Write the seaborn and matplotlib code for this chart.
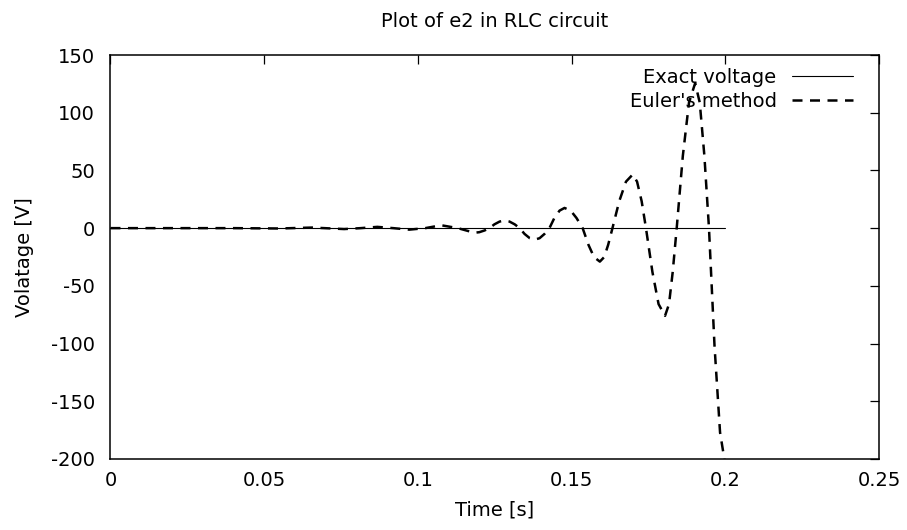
import matplotlib
matplotlib.use("Agg")
import matplotlib.pyplot as plt
import pandas as pd
import seaborn as sns

# exact solution (flat at ~0 V on this scale)
exact_t = [0.0, 0.05, 0.1, 0.15, 0.2]
exact_v = [0.0, 0.0, 0.0, 0.0, 0.0]

# Euler's method
euler_t = [0.0, 0.02, 0.04, 0.055, 0.0656, 0.076, 0.0814, 0.0868, 0.092, 0.0972,
           0.1024, 0.1076, 0.113, 0.1184, 0.12, 0.1217, 0.1233, 0.1249, 0.1266,
           0.1282, 0.1298, 0.1315, 0.1331, 0.1347, 0.1364, 0.138, 0.1396, 0.1412,
           0.1428, 0.1444, 0.1461, 0.1477, 0.1497, 0.1516, 0.1536, 0.1555, 0.1573,
           0.1592, 0.1606, 0.1619, 0.1633, 0.1655, 0.1677, 0.1699, 0.1713, 0.1728,
           0.1742, 0.1763, 0.1783, 0.1804, 0.1817, 0.1829, 0.1842, 0.1862, 0.1882,
           0.1902, 0.1917, 0.1932, 0.1947, 0.1965, 0.1983, 0.2]
euler_v = [0.0, 0.0, 0.0, -0.3, 0.5, -0.8, 0.0, 1.1, 0.0, -1.3,
           0.0, 2.5, 0.0, -4.0, -3.5, -2.0, 0.0, 3.3, 5.7,
           6.6, 5.7, 3.3, 0.0, -5.0, -8.7, -10.0, -8.7, -5.0,
           0.0, 8.8, 15.2, 17.5, 15.2, 8.8, 0.0, -14.5, -25.1,
           -29.0, -25.1, -14.5, 0.0, 23.3, 40.3, 46.5, 40.3, 23.3,
           0.0, -38.0, -65.8, -76.0, -65.8, -38.0, 0.0, 62.8, 108.8,
           125.6, 108.8, 62.8, 0.0, -102.0, -177.0, -205.0]

x_ticks = [0, 0.05, 0.1, 0.15, 0.2, 0.25]
x_tick_labels = ["0", "0.05", "0.1", "0.15", "0.2", "0.25"]
y_ticks = [150, 100, 50, 0, -50, -100, -150, -200]

sns.set_style("white")
plt.rcParams["font.family"] = ["DejaVu Sans"]
plt.rcParams["axes.unicode_minus"] = False
for k in ["text.color", "axes.labelcolor", "xtick.color", "ytick.color"]:
    plt.rcParams[k] = "black"

exact = pd.DataFrame({"t": exact_t, "v": exact_v})
euler = pd.DataFrame({"t": euler_t, "v": euler_v})

fs = 14
fig = plt.figure(figsize=(9.07, 5.30), dpi=100)
ax = fig.add_axes([0.1218, 0.134, 0.9691 - 0.1218, 0.8962 - 0.134])

sns.lineplot(data=exact, x="t", y="v", ax=ax, color="black", lw=0.8,
             label="Exact voltage")
sns.lineplot(data=euler, x="t", y="v", ax=ax, color="black", lw=1.8,
             label="Euler's method")
ax.lines[1].set_dashes([4, 3])

ax.set_xlim(0, 0.25)
ax.set_ylim(-200, 150)
ax.set_xticks(x_ticks)
ax.set_xticklabels(x_tick_labels)
ax.set_yticks(y_ticks)
ax.set_yticklabels([str(v) for v in y_ticks])
ax.tick_params(direction="in", length=6.5, width=0.9, top=True, right=True,
               labelsize=fs)
ax.tick_params(axis="x", pad=9)
ax.tick_params(axis="y", pad=11)

for s in ax.spines.values():
    s.set_visible(True)
    s.set_color("black")
    s.set_linewidth(1.1)

ax.set_xlabel("Time [s]", fontsize=fs, labelpad=7)
ax.set_ylabel("Volatage [V]", fontsize=fs, labelpad=12)
ax.set_title("Plot of e2 in RLC circuit", fontsize=fs, pad=20)

leg = ax.legend(loc="upper right", bbox_to_anchor=(0.976, 0.988),
                borderaxespad=0, frameon=False, markerfirst=False,
                fontsize=fs, handlelength=3.15, labelspacing=0.27,
                handletextpad=0.77)
for t in leg.get_texts():
    t.set_ha("right")

fig.savefig("out.png", dpi=100)
